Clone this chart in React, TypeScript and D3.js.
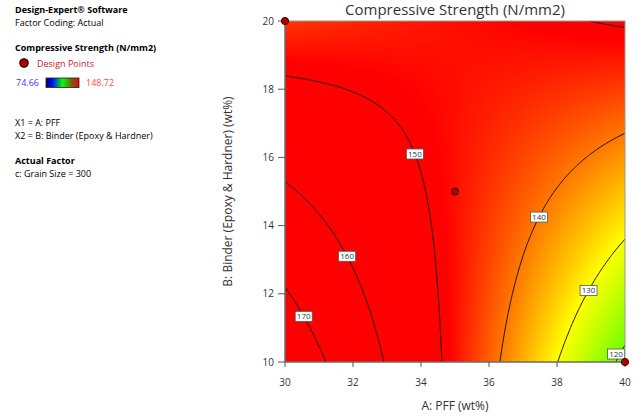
import React, { useMemo } from 'react';
import * as d3 from 'd3';

// ---- data ----
const xDomain = [30, 40];
const yDomain = [10, 20];
const xTicks = [30, 32, 34, 36, 38, 40];
const yTicks = [10, 12, 14, 16, 18, 20];
// fitted response (coded units): [intercept, A, B, AB, A^2, B^2]
const modelCoefficients = [147.72, -13.22, -0.015, 16.115, 0, 0];
const contourLevels = [120, 130, 140, 150, 160, 170];
const labelHintA = [39.76, 38.87, 37.44, 33.88, 31.91, 30.65];
const labelHintB = [10.24, 12.12, 14.25, 16.1, 13.17, 11.38];
const designA = [30, 35, 40];
const designB = [20, 15, 10];
const colorRange = [74.66, 148.72];
const colorStopT = [0, 0.5, 0.75, 1];
const colorStopColors = ['#0000ff', '#00ff00', '#ffff00', '#ff0000'];
const legendBarT = [0, 0.2, 0.5, 0.78, 1];
const legendBarColors = ['#00006e', '#0010ff', '#00ff00', '#7a5a10', '#ff0000'];

const FONT = "'Open Sans', sans-serif";

type Pt = [number, number];

function isolines(values: number[], nx: number, ny: number, level: number): Pt[][] {
  const pts = new Map<string, Pt>();
  const adj = new Map<string, string[]>();
  const cross = (i0: number, j0: number, i1: number, j1: number, key: string) => {
    if (!pts.has(key)) {
      const v0 = values[j0 * nx + i0], v1 = values[j1 * nx + i1];
      const t = (level - v0) / (v1 - v0);
      pts.set(key, [i0 + (i1 - i0) * t, j0 + (j1 - j0) * t]);
    }
    return key;
  };
  const link = (a: string, b: string) => {
    if (!adj.has(a)) adj.set(a, []);
    if (!adj.has(b)) adj.set(b, []);
    adj.get(a)!.push(b);
    adj.get(b)!.push(a);
  };
  for (let j = 0; j < ny - 1; j++) {
    for (let i = 0; i < nx - 1; i++) {
      const v00 = values[j * nx + i], v10 = values[j * nx + i + 1];
      const v01 = values[(j + 1) * nx + i], v11 = values[(j + 1) * nx + i + 1];
      const s00 = v00 >= level, s10 = v10 >= level, s01 = v01 >= level, s11 = v11 >= level;
      const e: (string | null)[] = [
        s00 !== s10 ? cross(i, j, i + 1, j, `h${i},${j}`) : null,
        s10 !== s11 ? cross(i + 1, j, i + 1, j + 1, `v${i + 1},${j}`) : null,
        s01 !== s11 ? cross(i, j + 1, i + 1, j + 1, `h${i},${j + 1}`) : null,
        s00 !== s01 ? cross(i, j, i, j + 1, `v${i},${j}`) : null,
      ];
      const list = e.filter((k) => k !== null) as string[];
      if (list.length === 2) link(list[0], list[1]);
      else if (list.length === 4) {
        const c = (v00 + v10 + v01 + v11) / 4 >= level;
        if (c === s00) { link(e[0]!, e[1]!); link(e[2]!, e[3]!); }
        else { link(e[0]!, e[3]!); link(e[1]!, e[2]!); }
      }
    }
  }
  const used = new Set<string>();
  const lines: Pt[][] = [];
  const walk = (start: string) => {
    const line: Pt[] = [pts.get(start)!];
    used.add(start);
    let cur = start;
    while (true) {
      const nxt = (adj.get(cur) || []).find((k) => !used.has(k));
      if (!nxt) break;
      used.add(nxt);
      line.push(pts.get(nxt)!);
      cur = nxt;
    }
    lines.push(line);
  };
  for (const [k, v] of adj) if (v.length === 1 && !used.has(k)) walk(k);
  for (const k of adj.keys()) if (!used.has(k)) walk(k);
  return lines;
}

export default function App() {
  const plot = { left: 285, right: 625, top: 21, bottom: 362 };
  const x = d3.scaleLinear().domain(xDomain).range([plot.left, plot.right]);
  const y = d3.scaleLinear().domain(yDomain).range([plot.bottom, plot.top]);

  const response = (A: number, B: number) => {
    const a = (A - 35) / 5, b = (B - 15) / 5;
    const [c0, c1, c2, c3, c4, c5] = modelCoefficients;
    return c0 + c1 * a + c2 * b + c3 * a * b + c4 * a * a + c5 * b * b;
  };

  const color = d3
    .scaleLinear<string>()
    .domain(colorStopT.map((t) => colorRange[0] + t * (colorRange[1] - colorRange[0])))
    .range(colorStopColors)
    .clamp(true);

  const raster = useMemo(() => {
    const w = plot.right - plot.left, h = plot.bottom - plot.top;
    const canvas = document.createElement('canvas');
    canvas.width = w;
    canvas.height = h;
    const ctx = canvas.getContext('2d')!;
    const img = ctx.createImageData(w, h);
    for (let py = 0; py < h; py++) {
      for (let px = 0; px < w; px++) {
        const c = d3.rgb(color(response(x.invert(plot.left + px + 0.5), y.invert(plot.top + py + 0.5))));
        const o = (py * w + px) * 4;
        img.data[o] = c.r; img.data[o + 1] = c.g; img.data[o + 2] = c.b; img.data[o + 3] = 255;
      }
    }
    ctx.putImageData(img, 0, 0);
    return canvas.toDataURL();
  }, []);

  const labelHalfW = 8.5, labelHalfH = 5;

  const contours = useMemo(() => {
    const n = 201;
    const gA = d3.range(n).map((i) => xDomain[0] + ((xDomain[1] - xDomain[0]) * i) / (n - 1));
    const gB = d3.range(n).map((j) => yDomain[0] + ((yDomain[1] - yDomain[0]) * j) / (n - 1));
    const vals: number[] = [];
    for (let j = 0; j < n; j++) for (let i = 0; i < n; i++) vals.push(response(gA[i], gB[j]));
    const toPx = (p: Pt): Pt => [
      x(xDomain[0] + ((xDomain[1] - xDomain[0]) * p[0]) / (n - 1)),
      y(yDomain[0] + ((yDomain[1] - yDomain[0]) * p[1]) / (n - 1)),
    ];
    return contourLevels.map((level, li) => {
      const lines = isolines(vals, n, n, level).map((l) => l.map(toPx));
      const hx = x(labelHintA[li]), hy = y(labelHintB[li]);
      let best: Pt = [hx, hy], bd = Infinity;
      lines.forEach((l) => l.forEach((p) => {
        const d = (p[0] - hx) ** 2 + (p[1] - hy) ** 2;
        if (d < bd) { bd = d; best = p; }
      }));
      const lx = Math.max(plot.left + labelHalfW, Math.min(plot.right - labelHalfW - 0.5, best[0]));
      const ly = Math.max(plot.top + labelHalfH, Math.min(plot.bottom - labelHalfH - 3, best[1]));
      return { level, lines, label: [lx, ly] as Pt };
    });
  }, []);

  const line = d3.line<Pt>().x((d) => d[0]).y((d) => d[1]);

  return (
    <svg width={640} height={416} style={{ position: 'absolute', left: 0, top: 0, display: 'block' }} fontFamily={FONT}>
      <rect x={0} y={0} width={640} height={416} fill="#ffffff" />
      <defs>
        <linearGradient id="lg" x1="0" x2="1" y1="0" y2="0">
          {legendBarT.map((t, i) => (
            <stop key={i} offset={t} stopColor={legendBarColors[i]} />
          ))}
        </linearGradient>
        <clipPath id="pc">
          <rect x={plot.left} y={plot.top} width={plot.right - plot.left} height={plot.bottom - plot.top} />
        </clipPath>
      </defs>

      {/* left info panel */}
      <g fill="#000">
        <text x={15} y={13} fontSize={9} fontWeight="bold">Design-Expert® Software</text>
        <text x={15} y={26} fontSize={9}>Factor Coding: Actual</text>
        <text x={15} y={51} fontSize={9} fontWeight="bold">Compressive Strength (N/mm2)</text>
        <circle cx={24} cy={63} r={4.2} fill="#b00000" stroke="#200000" strokeWidth={1.2} />
        <text x={37} y={66.5} fontSize={9} fill="#d0202a">Design Points</text>
        <text x={16} y={86} fontSize={9} fill="#3b3bff">{colorRange[0].toFixed(2)}</text>
        <rect x={46} y={78} width={33} height={9.5} fill="url(#lg)" stroke="#222" strokeWidth={0.8} />
        <text x={86} y={86} fontSize={9} fill="#ff4a4a">{colorRange[1].toFixed(2)}</text>
        <text x={15} y={126} fontSize={9}>X1 = A: PFF</text>
        <text x={15} y={138.6} fontSize={9}>X2 = B: Binder (Epoxy &amp; Hardner)</text>
        <text x={15} y={164.4} fontSize={9} fontWeight="bold">Actual Factor</text>
        <text x={15} y={177} fontSize={9}>c: Grain Size = 300</text>
      </g>

      {/* title */}
      <text x={(plot.left + plot.right) / 2} y={15} fontSize={15} textAnchor="middle" fill="#333">
        Compressive Strength (N/mm2)
      </text>

      {/* surface */}
      <image href={raster} x={plot.left} y={plot.top} width={plot.right - plot.left} height={plot.bottom - plot.top} preserveAspectRatio="none" />

      {/* contours */}
      <g clipPath="url(#pc)">
        {contours.map((c) =>
          c.lines.map((l, i) => (
            <path key={`${c.level}-${i}`} d={line(l) || ''} fill="none" stroke="#111" strokeWidth={1} />
          ))
        )}
      </g>
      {contours.map((c) => (
        <g key={`lab-${c.level}`} transform={`translate(${c.label[0]},${c.label[1]})`}>
          <rect x={-labelHalfW} y={-labelHalfH} width={labelHalfW * 2} height={labelHalfH * 2} fill="#fff" stroke="#555" strokeWidth={0.8} />
          <text x={0} y={3} fontSize={8} textAnchor="middle" fill="#333">{c.level}</text>
        </g>
      ))}

      {/* frame */}
      <rect x={plot.left} y={plot.top} width={plot.right - plot.left} height={plot.bottom - plot.top} fill="none" stroke="#999" strokeWidth={1} />
      <line x1={plot.left} x2={plot.left} y1={plot.top} y2={plot.bottom} stroke="#555" />
      <line x1={plot.left} x2={plot.right} y1={plot.bottom} y2={plot.bottom} stroke="#555" />

      {/* axes */}
      {xTicks.map((t) => (
        <g key={`x${t}`}>
          <line x1={x(t)} x2={x(t)} y1={plot.bottom} y2={plot.bottom + 5} stroke="#555" />
          <text x={x(t)} y={386} fontSize={10} textAnchor="middle" fill="#333">{t}</text>
        </g>
      ))}
      {yTicks.map((t) => (
        <g key={`y${t}`}>
          <line x1={plot.left - 7} x2={plot.left} y1={y(t)} y2={y(t)} stroke="#555" />
          <text x={274} y={y(t) + 3.6} fontSize={10} textAnchor="end" fill="#333">{t}</text>
        </g>
      ))}
      <text x={(plot.left + plot.right) / 2} y={410} fontSize={12} textAnchor="middle" fill="#333">A: PFF (wt%)</text>
      <text transform={`translate(231.5,${(plot.top + plot.bottom) / 2}) rotate(-90)`} fontSize={12} textAnchor="middle" fill="#333">
        B: Binder (Epoxy &amp; Hardner) (wt%)
      </text>

      {/* design points */}
      {designA.map((a, i) => (
        <circle key={`dp${i}`} cx={x(a)} cy={y(designB[i])} r={3.6} fill="#b00000" stroke="#3a0000" strokeWidth={1} />
      ))}
    </svg>
  );
}
